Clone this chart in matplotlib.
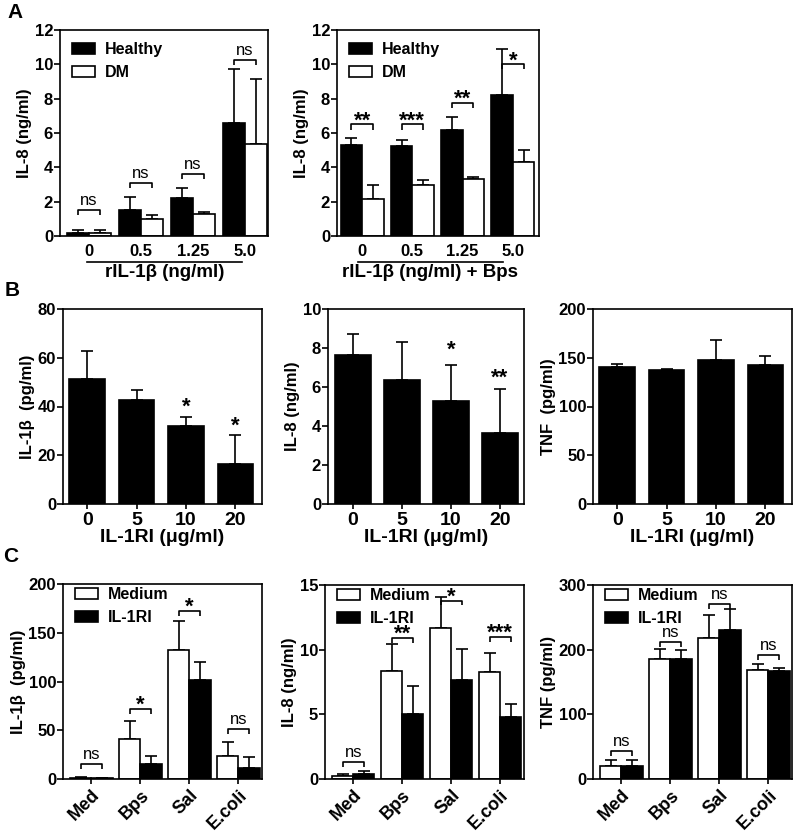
import matplotlib
matplotlib.use("Agg")
import matplotlib.pyplot as plt
import matplotlib.transforms as mtransforms
from matplotlib.patches import Patch
import numpy as np

plt.rcParams['font.family'] = ['Liberation Sans', 'DejaVu Sans']
plt.rcParams['font.weight'] = 'bold'

# ---------------- Data ----------------
# Panel A
a_doses = ["0", "0.5", "1.25", "5.0"]
a1_healthy = [0.2, 1.5, 2.2, 6.6]
a1_healthy_err = [0.15, 0.8, 0.6, 3.1]
a1_dm = [0.2, 1.0, 1.3, 5.35]
a1_dm_err = [0.15, 0.2, 0.1, 3.8]
a1_sig = ["ns", "ns", "ns", "ns"]
a1_sig_y = [1.5, 3.1, 3.6, 10.25]

a2_healthy = [5.3, 5.25, 6.2, 8.2]
a2_healthy_err = [0.4, 0.35, 0.75, 2.7]
a2_dm = [2.15, 3.0, 3.3, 4.3]
a2_dm_err = [0.85, 0.25, 0.15, 0.7]
a2_sig = ["**", "***", "**", "*"]
a2_sig_y = [6.5, 6.5, 7.75, 10.0]

# Panel B
b_doses = ["0", "5", "10", "20"]
b1_il1b = [51.2, 42.7, 32.2, 16.3]
b1_il1b_err = [11.7, 3.9, 3.3, 12.0]
b1_sig = ["", "", "*", "*"]
b1_sig_y = [0, 0, 39.5, 32.0]

b2_il8 = [7.65, 6.37, 5.26, 3.65]
b2_il8_err = [1.05, 1.95, 1.86, 2.27]
b2_sig = ["", "", "*", "**"]
b2_sig_y = [0, 0, 7.9, 6.45]

b3_tnf = [140.4, 137.0, 148.0, 142.5]
b3_tnf_err = [3.4, 1.4, 20.5, 8.9]

# Panel C
c_stim = ["Med", "Bps", "Sal", "E.coli"]
c1_medium = [1.5, 41.0, 132.4, 23.9]
c1_medium_err = [0.5, 18.0, 30.1, 14.0]
c1_il1ri = [1.0, 15.7, 101.7, 10.9]
c1_il1ri_err = [0.3, 7.5, 18.8, 11.3]
c1_sig = ["ns", "*", "*", "ns"]
c1_sig_y = [15.7, 71.7, 172.4, 51.2]

c2_medium = [0.2, 8.35, 11.65, 8.25]
c2_medium_err = [0.18, 2.05, 2.4, 1.47]
c2_il1ri = [0.41, 5.04, 7.66, 4.83]
c2_il1ri_err = [0.19, 2.16, 2.37, 0.98]
c2_sig = ["ns", "**", "*", "***"]
c2_sig_y = [1.29, 10.87, 13.8, 10.95]

c3_medium = [19.5, 185.9, 217.6, 169.0]
c3_medium_err = [10.2, 15.1, 36.4, 9.0]
c3_il1ri = [20.5, 184.8, 231.0, 167.0]
c3_il1ri_err = [9.2, 15.2, 31.7, 4.5]
c3_sig = ["ns", "ns", "ns", "ns"]
c3_sig_y = [43.5, 211.5, 271.0, 192.0]

# ---------------- Layout helpers ----------------
W, H = 798, 833
fig = plt.figure(figsize=(W / 100, H / 100), dpi=100)

LW = 1.2
YTICK_FS = 12
YLABEL_FS = 12


def add_ax(x0, x1, y0, y1):
    return fig.add_axes([x0 / W, (H - y1) / H, (x1 - x0) / W, (y1 - y0) / H])


def style(ax, yticks, ymax, xlim, xticklen=3.5, xfs=14, xpad=2):
    for s in ax.spines.values():
        s.set_linewidth(LW)
    ax.set_ylim(0, ymax)
    ax.set_yticks(yticks)
    ax.set_xlim(*xlim)
    ax.tick_params(axis='y', direction='out', length=4, width=LW, labelsize=YTICK_FS, pad=1)
    ax.tick_params(axis='x', direction='out', length=xticklen, width=LW, labelsize=xfs, pad=xpad)


def bold_ticks(ax):
    for lab in ax.get_yticklabels() + ax.get_xticklabels():
        lab.set_fontweight('bold')


def errbars(ax, x, y, err, capsize=4):
    ax.errorbar(x, y, yerr=[np.zeros(len(err)), err], fmt='none', ecolor='black',
                elinewidth=LW, capsize=capsize, capthick=LW, zorder=1)


def bracket(ax, x1, x2, y, text, ymax):
    drop = 0.025 * ymax
    ax.plot([x1, x1, x2, x2], [y - drop, y, y, y - drop], color='black', lw=LW,
            solid_capstyle='butt', zorder=4, clip_on=False)
    if text == "ns":
        ax.text((x1 + x2) / 2, y + 0.01 * ymax, text, ha='center', va='bottom',
                fontsize=12, fontweight='normal', zorder=5)
    else:
        ax.text((x1 + x2) / 2, y - 0.035 * ymax, text, ha='center', va='bottom',
                fontsize=16, fontweight='bold', zorder=5)


def grouped(ax, v1, e1, v2, e2, c1, c2, w, capsize=4):
    x = np.arange(len(v1))
    ax.bar(x - w / 2, v1, w, color=c1, edgecolor='black', linewidth=LW, zorder=2)
    ax.bar(x + w / 2, v2, w, color=c2, edgecolor='black', linewidth=LW, zorder=2)
    errbars(ax, x - w / 2, v1, e1, capsize)
    errbars(ax, x + w / 2, v2, e2, capsize)
    return x


def legend(ax, labels, colors, y_anchor=1.0):
    handles = [Patch(facecolor=c, edgecolor='black', linewidth=LW) for c in colors]
    ax.legend(handles, labels, loc='upper left', bbox_to_anchor=(0.0, y_anchor),
              frameon=False, handlelength=1.45, handleheight=0.65, handletextpad=0.6,
              labelspacing=0.5, borderaxespad=0.35,
              prop={'weight': 'bold', 'size': 11.5})


# ---------------- Panel A ----------------
wA = 0.43


def panel_a(ax, h, he, d, de, sig, sig_y, xlim, xlabel, line_x):
    xx = grouped(ax, h, he, d, de, 'black', 'white', wA)
    style(ax, np.arange(0, 13, 2), 12, xlim, xticklen=0, xfs=12, xpad=6)
    ax.set_xticks(xx)
    ax.set_xticklabels(a_doses)
    bold_ticks(ax)
    for i in range(4):
        bracket(ax, xx[i] - wA / 2, xx[i] + wA / 2, sig_y[i], sig[i], 12)
    ax.set_ylabel("IL-8 (ng/ml)", fontsize=YLABEL_FS, fontweight='bold', labelpad=2)
    legend(ax, ["Healthy", "DM"], ['black', 'white'])
    tr = mtransforms.blended_transform_factory(ax.transData, ax.transAxes)
    ax.plot(line_x, [-0.126, -0.126], color='black', lw=LW, transform=tr, clip_on=False)
    ax.text(sum(line_x) / 2, -0.178, xlabel, transform=tr, ha='center', va='center',
            fontsize=13.5, fontweight='bold')


axA1 = add_ax(60, 268, 30, 236)
panel_a(axA1, a1_healthy, a1_healthy_err, a1_dm, a1_dm_err, a1_sig, a1_sig_y,
        (-0.56, 3.44), "rIL-1β (ng/ml)", [-0.04, 2.94])
axA2 = add_ax(337, 539, 30, 236)
panel_a(axA2, a2_healthy, a2_healthy_err, a2_dm, a2_dm_err, a2_sig, a2_sig_y,
        (-0.5, 3.52), "rIL-1β (ng/ml) + Bps", [-0.08, 2.8])

# ---------------- Panel B ----------------
wB = 0.72


def panel_b(ax, vals, errs, sig, sig_y, ymax, yticks, ylabel, xlim):
    xx = np.arange(len(vals))
    ax.bar(xx, vals, wB, color='black', edgecolor='black', linewidth=LW, zorder=2)
    errbars(ax, xx, vals, errs, capsize=4.5)
    style(ax, yticks, ymax, xlim)
    ax.set_xticks(xx)
    ax.set_xticklabels(b_doses)
    bold_ticks(ax)
    for i in range(len(vals)):
        if sig[i]:
            ax.text(xx[i], sig_y[i], sig[i], ha='center', va='center', fontsize=16,
                    fontweight='bold')
    ax.set_ylabel(ylabel, fontsize=YLABEL_FS, fontweight='bold', labelpad=2)
    ax.set_xlabel("IL-1RI (μg/ml)", fontsize=14, fontweight='bold', labelpad=0)


axB1 = add_ax(63, 262, 309, 504)
panel_b(axB1, b1_il1b, b1_il1b_err, b1_sig, b1_sig_y, 80, np.arange(0, 81, 20),
        "IL-1β  (pg/ml)", (-0.49, 3.54))
axB2 = add_ax(328, 524, 309, 504)
panel_b(axB2, b2_il8, b2_il8_err, b2_sig, b2_sig_y, 10, np.arange(0, 11, 2),
        "IL-8 (ng/ml)", (-0.51, 3.49))
axB3 = add_ax(593, 792, 309, 504)
panel_b(axB3, b3_tnf, b3_tnf_err, ["", "", "", ""], [0, 0, 0, 0], 200,
        np.arange(0, 201, 50), "TNF  (pg/ml)", (-0.49, 3.54))

# ---------------- Panel C ----------------
wC = 0.43


def panel_c(ax, med, med_e, ri, ri_e, sig, sig_y, ymax, yticks, ylabel, xlim):
    xx = grouped(ax, med, med_e, ri, ri_e, 'white', 'black', wC)
    style(ax, yticks, ymax, xlim, xfs=13, xpad=2)
    ax.set_xticks(xx)
    ax.set_xticklabels(c_stim, rotation=45, ha='right', rotation_mode='anchor')
    bold_ticks(ax)
    for i in range(4):
        bracket(ax, xx[i] - wC / 2, xx[i] + wC / 2, sig_y[i], sig[i], ymax)
    ax.set_ylabel(ylabel, fontsize=YLABEL_FS, fontweight='bold', labelpad=2)
    legend(ax, ["Medium", "IL-1RI"], ['white', 'black'], y_anchor=1.045)


axC1 = add_ax(63, 262, 584, 779)
panel_c(axC1, c1_medium, c1_medium_err, c1_il1ri, c1_il1ri_err, c1_sig, c1_sig_y,
        200, np.arange(0, 201, 50), "IL-1β  (pg/ml)", (-0.58, 3.48))
axC2 = add_ax(325, 524, 585, 779)
panel_c(axC2, c2_medium, c2_medium_err, c2_il1ri, c2_il1ri_err, c2_sig, c2_sig_y,
        15, np.arange(0, 16, 5), "IL-8 (ng/ml)", (-0.58, 3.49))
axC3 = add_ax(593, 792, 585, 779)
panel_c(axC3, c3_medium, c3_medium_err, c3_il1ri, c3_il1ri_err, c3_sig, c3_sig_y,
        300, np.arange(0, 301, 100), "TNF (pg/ml)", (-0.58, 3.48))

# Panel letters
fig.text(7 / W, 1 - 13 / H, "A", fontsize=15, fontweight='bold', va='center', ha='left')
fig.text(5 / W, 1 - 291 / H, "B", fontsize=15, fontweight='bold', va='center', ha='left')
fig.text(3 / W, 1 - 556 / H, "C", fontsize=15, fontweight='bold', va='center', ha='left')

fig.savefig("out.png", dpi=100)
